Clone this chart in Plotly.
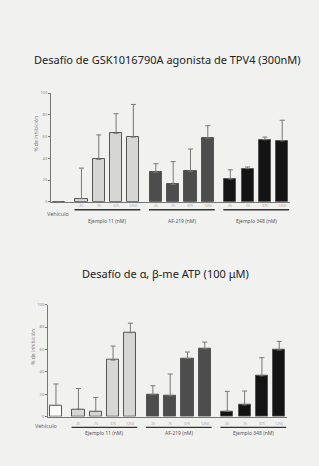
import plotly.graph_objects as go

W, H = 319, 466

conc_labels = ["25", "75", "375", "1250"]
group_names = ["Ejemplo 11 (nM)", "AF-219 (nM)", "Ejemplo 348 (nM)"]
vehicle_label = "Vehículo"
y_ticks = [0, 20, 40, 60, 80, 100]

# Top chart: GSK1016790A challenge
top_vehicle = 0
top_vehicle_err = 0
top_ej11 = [3, 39, 63, 59.5]
top_ej11_err = [31, 61.5, 81, 89.5]
top_af219 = [27, 16, 28, 58.5]
top_af219_err = [35, 37, 48.5, 70]
top_ej348 = [21, 30.5, 57, 56]
top_ej348_err = [29.5, 32, 59.5, 75]

# Bottom chart: alpha,beta-me ATP challenge
bot_vehicle = 9.8
bot_vehicle_err = 19.3
bot_ej11 = [6.5, 4.4, 50.5, 75]
bot_ej11_err = [25, 17, 63, 83.5]
bot_af219 = [19.5, 18.6, 51.8, 60.6]
bot_af219_err = [27.5, 38, 57.7, 66.6]
bot_ej348 = [4.7, 10.4, 36.4, 59.5]
bot_ej348_err = [22.5, 22.8, 52.7, 67.2]

titles = ["Desafío de GSK1016790A agonista de TPV4 (300nM)",
          "Desafío de α, β-me ATP (100 μM)"]

fills = ["#d6d6d4", "#4d4d4d", "#141414"]
BG = "#f1f1ef"
FONT = "Noto Sans"

def pos(g, i):
    return 1.3 + g * 4.3 + i

fig = go.Figure()

panels = [
    dict(xa="x", ya="y", veh=top_vehicle, veh_err=top_vehicle_err,
         groups=[(top_ej11, top_ej11_err), (top_af219, top_af219_err), (top_ej348, top_ej348_err)],
         xdom=[51 / W, 290 / W], y0=201, y100=91, title_y=57, title_x=167,
         conc_y=205, line_y=209, name_y=220, veh_x=58, veh_y=213, ytitle_x=36),
    dict(xa="x2", ya="y2", veh=bot_vehicle, veh_err=bot_vehicle_err,
         groups=[(bot_ej11, bot_ej11_err), (bot_af219, bot_af219_err), (bot_ej348, bot_ej348_err)],
         xdom=[48 / W, 287 / W], y0=418, y100=305, title_y=273, title_x=165,
         conc_y=425, line_y=429, name_y=435, veh_x=46, veh_y=428, ytitle_x=33),
]

annotations = []
shapes = []
layout_axes = {}

for k, p in enumerate(panels):
    xs = [0]
    ys = [p["veh"]]
    es = [p["veh_err"]]
    cols = ["#fbfbfa"]
    for g, (vals, errs) in enumerate(p["groups"]):
        for i, v in enumerate(vals):
            xs.append(pos(g, i))
            ys.append(v)
            es.append(errs[i] - v)
            cols.append(fills[g])
    fig.add_trace(go.Bar(
        x=xs, y=ys, width=0.7, xaxis=p["xa"], yaxis=p["ya"],
        marker=dict(color=cols, line=dict(color="#555555", width=1)),
        error_y=dict(type="data", symmetric=False, array=es,
                     arrayminus=[0] * len(es), color="#777777",
                     thickness=1, width=2.5),
        showlegend=False,
    ))
    suffix = "" if k == 0 else "2"
    ydom = [1 - p["y0"] / H, 1 - p["y100"] / H]
    layout_axes["xaxis" + suffix] = dict(
        domain=p["xdom"], range=[-0.46, 13.35], anchor=p["ya"],
        showticklabels=False, ticks="", showgrid=False, zeroline=False,
        showline=True, linecolor="#777777", linewidth=1)
    layout_axes["yaxis" + suffix] = dict(
        domain=ydom, range=[0, 100], anchor=p["xa"],
        tickvals=y_ticks, ticks="outside", ticklen=2, tickwidth=1,
        tickcolor="#777777", showgrid=False, zeroline=False,
        showline=True, linecolor="#777777", linewidth=1,
        tickfont=dict(size=4, color="#888888", family=FONT))

    annotations.append(dict(
        text=titles[k], xref="paper", yref="paper",
        x=p["title_x"] / W, y=1 - p["title_y"] / H,
        xanchor="center", yanchor="middle", showarrow=False,
        font=dict(size=11, color="#222222", family=FONT)))
    annotations.append(dict(
        text="% de inhibición", xref="paper", yref="paper",
        x=p["ytitle_x"] / W, y=(ydom[0] + ydom[1]) / 2 + 0.03,
        textangle=-90, xanchor="center", yanchor="middle", showarrow=False,
        font=dict(size=5, color="#777777", family=FONT)))
    annotations.append(dict(
        text=vehicle_label, xref="paper", yref="paper",
        x=p["veh_x"] / W, y=1 - p["veh_y"] / H,
        xanchor="center", yanchor="middle", showarrow=False,
        font=dict(size=5.5, color="#666666", family=FONT)))
    for g in range(3):
        for i, c in enumerate(conc_labels):
            annotations.append(dict(
                text=c, xref=p["xa"], yref="paper",
                x=pos(g, i), y=1 - p["conc_y"] / H,
                xanchor="center", yanchor="middle", showarrow=False,
                font=dict(size=3.5, color="#999999", family=FONT)))
        shapes.append(dict(
            type="line", xref=p["xa"], yref="paper",
            x0=pos(g, 0) - 0.4, x1=pos(g, 3) + 0.4,
            y0=1 - p["line_y"] / H, y1=1 - p["line_y"] / H,
            line=dict(color="#333333", width=1.3)))
        annotations.append(dict(
            text=group_names[g], xref=p["xa"], yref="paper",
            x=pos(g, 1.5), y=1 - p["name_y"] / H,
            xanchor="center", yanchor="middle", showarrow=False,
            font=dict(size=5, color="#555555", family=FONT)))

fig.update_layout(
    width=W, height=H, margin=dict(l=0, r=0, t=0, b=0),
    paper_bgcolor=BG, plot_bgcolor=BG, bargap=0,
    annotations=annotations, shapes=shapes, **layout_axes)

fig.write_html(
    "out.html",
    config={"displayModeBar": False},
    post_script="document.body.style.margin='0';document.body.style.background='%s';" % BG,
)
